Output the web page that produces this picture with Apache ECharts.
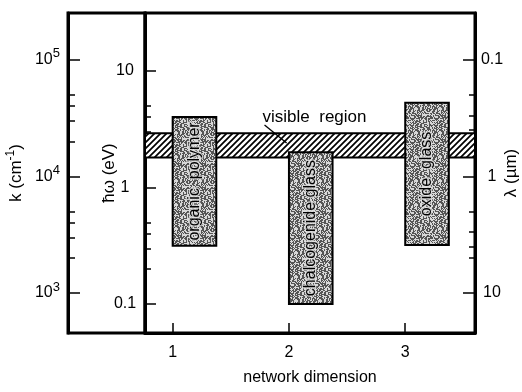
<!DOCTYPE html>
<html><head><meta charset="utf-8">
<script src="https://cdn.jsdelivr.net/npm/echarts@6/dist/echarts.min.js"></script>
<style>html,body{margin:0;padding:0;background:#fff}#c{width:522px;height:392px}</style>
</head><body><div id="c"></div>
<script>
// ---- data ----
const materials   = ['organic  polymer', 'chalcogenide glass', 'oxide  glass'];
const networkDim  = [1, 2, 3];
const gapLowEV    = [0.315, 0.1, 0.32];   // lower edge of transparency window, eV
const gapHighEV   = [4.0, 2.0, 5.3];      // upper edge, eV
const visibleBandEV = [1.8, 2.9];         // visible region, eV
const visibleLabel  = 'visible  region';

// ---- axis ticks ----
const xTicks      = [1, 2, 3];
const eVTicks     = [0.1, 1, 10];
const kTicks      = [1e3, 1e4, 1e5];
const lambdaTicks = [0.1, 1, 10];
const minorSteps  = [2, 3, 4, 5];

// axis ranges
const xRange  = [0.762, 3.6];
const eVRange = [0.0564, 31.2];
const CM_PER_EV = 8065.54;      // k (cm^-1) = E * 8065.54
const UM_EV = 1.23984;          // lambda (um) = 1.23984 / E

const kRange = [eVRange[0] * CM_PER_EV, eVRange[1] * CM_PER_EV];
const lambdaRange = [UM_EV / eVRange[1], UM_EV / eVRange[0]];
function minors(major) {
  const out = [];
  for (let i = 0; i < major.length - 1; i++) minorSteps.forEach(s => out.push(major[i] * s));
  return out;
}

// annotation placement (data units: network dimension, eV)
const annText = [2.22, 3.97];
const annFrom = [1.79, 3.42];
const annTo   = [1.98, 2.40];
const barW = 0.375;

const FONT = '"Liberation Sans", Arial, sans-serif';

function hatchPattern() {
  const s = 6, c = document.createElement('canvas');
  c.width = s; c.height = s;
  const g = c.getContext('2d');
  g.fillStyle = '#fff'; g.fillRect(0, 0, s, s);
  g.strokeStyle = '#000'; g.lineWidth = 1.7;
  g.beginPath();
  g.moveTo(-1, s + 1); g.lineTo(s + 1, -1);
  g.moveTo(-s / 2 - 1, s / 2 + 1); g.lineTo(s / 2 + 1, -s / 2 - 1);
  g.moveTo(s / 2 - 1, s * 1.5 + 1); g.lineTo(s * 1.5 + 1, s / 2 - 1);
  g.stroke();
  return c;
}
// fixed (hash-based) stipple texture imitating the printed screen tone
function ditherPattern() {
  const s = 24, c = document.createElement('canvas');
  c.width = s; c.height = s;
  const g = c.getContext('2d');
  for (let y = 0; y < s; y++) for (let x = 0; x < s; x++) {
    let h = (x * 374761393 + y * 668265263) | 0;
    h = Math.imul(h ^ (h >>> 13), 1274126177);
    h = (h ^ (h >>> 16)) >>> 0;
    g.fillStyle = (h % 100) < 52 ? '#555' : '#d8d8d8';
    g.fillRect(x, y, 1, 1);
  }
  return c;
}
const HATCH = { image: hatchPattern(), repeat: 'repeat' };
const DITHER = { image: ditherPattern(), repeat: 'repeat' };

const tickStyle = { color: '#000', width: 1.5 };
const labelBase = { color: '#000', fontSize: 16, fontFamily: FONT };
const nameStyle = { color: '#000', fontSize: 17, fontFamily: FONT };
const fmt = v => String(+(+v).toPrecision(3));

const chart = echarts.init(document.getElementById('c'), null, { renderer: 'canvas' });
chart.setOption({
  animation: false,
  backgroundColor: '#fff',
  grid: [
    { left: 145, top: 13, width: 330, height: 320, show: true, borderColor: '#000', borderWidth: 3,
      backgroundColor: 'transparent', containLabel: false, outerBoundsMode: 'none' },
    { left: 68, top: 13, width: 77, height: 320, show: true, borderColor: '#000', borderWidth: 3,
      backgroundColor: 'transparent', containLabel: false, outerBoundsMode: 'none' }
  ],
  xAxis: [
    {
      type: 'value', gridIndex: 0, min: xRange[0], max: xRange[1],
      axisLine: { show: true, lineStyle: { color: '#000', width: 3 } },
      axisTick: { inside: true, length: 10, lineStyle: tickStyle, customValues: xTicks },
      axisLabel: Object.assign({ customValues: xTicks, margin: 12, formatter: fmt }, labelBase),
      splitLine: { show: false },
      name: 'network dimension', nameLocation: 'middle', nameGap: 37, nameMoveOverlap: false,
      nameTextStyle: { color: '#000', fontSize: 16, fontFamily: FONT }
    },
    { type: 'value', gridIndex: 1, min: 0, max: 1, show: false }
  ],
  yAxis: [
    { // eV major
      type: 'log', gridIndex: 0, position: 'left', min: eVRange[0], max: eVRange[1],
      axisLine: { show: true, lineStyle: { color: '#000', width: 3 } },
      axisTick: { inside: true, length: 11, lineStyle: tickStyle, customValues: eVTicks },
      axisLabel: Object.assign({ customValues: eVTicks, margin: 20, align: 'center', formatter: fmt }, labelBase),
      splitLine: { show: false }, minorTick: { show: false },
      name: 'ħω (eV)', nameLocation: 'middle', nameRotate: 90, nameGap: 27, nameMoveOverlap: false, nameTextStyle: nameStyle
    },
    { // eV minor
      type: 'log', gridIndex: 0, position: 'left', min: eVRange[0], max: eVRange[1],
      axisLine: { show: false },
      axisTick: { inside: true, length: 6, lineStyle: tickStyle, customValues: minors(eVTicks) },
      axisLabel: { show: false }, splitLine: { show: false }
    },
    { // k major
      type: 'log', gridIndex: 1, position: 'left', min: kRange[0], max: kRange[1],
      axisLine: { show: true, lineStyle: { color: '#000', width: 3 } },
      axisTick: { inside: true, length: 12, lineStyle: tickStyle, customValues: kTicks },
      axisLabel: {
        customValues: kTicks, margin: 8, align: 'right',
        formatter: v => '{b|10}{s|' + Math.round(Math.log10(v)) + '}',
        rich: {
          b: { fontSize: 16, fontFamily: FONT, color: '#000' },
          s: { fontSize: 13, fontFamily: FONT, color: '#000', padding: [0, 0, 12, 0] }
        }
      },
      splitLine: { show: false },
      name: 'k (cm{s|-1})', nameLocation: 'middle', nameRotate: 90, nameGap: 41, nameMoveOverlap: false,
      nameTextStyle: Object.assign({ rich: { s: { fontSize: 12, fontFamily: FONT, color: '#000', padding: [0, 0, 10, 0] } } }, nameStyle)
    },
    { // k minor
      type: 'log', gridIndex: 1, position: 'left', min: kRange[0], max: kRange[1],
      axisLine: { show: false },
      axisTick: { inside: true, length: 7, lineStyle: tickStyle, customValues: minors(kTicks) },
      axisLabel: { show: false }, splitLine: { show: false }
    },
    { // lambda major
      type: 'log', gridIndex: 0, position: 'right', inverse: true, min: lambdaRange[0], max: lambdaRange[1],
      axisLine: { show: true, lineStyle: { color: '#000', width: 3 } },
      axisTick: { inside: true, length: 12, lineStyle: tickStyle, customValues: lambdaTicks },
      axisLabel: Object.assign({ customValues: lambdaTicks, margin: 17, align: 'center', formatter: fmt }, labelBase),
      splitLine: { show: false },
      name: 'λ (µm)', nameLocation: 'middle', nameRotate: 90, nameGap: 28, nameMoveOverlap: false, nameTextStyle: nameStyle
    },
    { // lambda minor
      type: 'log', gridIndex: 0, position: 'right', inverse: true, min: lambdaRange[0], max: lambdaRange[1],
      axisLine: { show: false },
      axisTick: { inside: true, length: 6, lineStyle: tickStyle, customValues: minors(lambdaTicks) },
      axisLabel: { show: false }, splitLine: { show: false }
    }
  ],
  series: [
    {
      type: 'custom', name: 'visible region', xAxisIndex: 0, yAxisIndex: 0, z: 2,
      data: [[xRange[0], visibleBandEV[0], visibleBandEV[1]]],
      renderItem(params, api) {
        const cs = params.coordSys;
        const yLo = api.coord([api.value(0), api.value(1)])[1];
        const yHi = api.coord([api.value(0), api.value(2)])[1];
        return { type: 'rect', shape: { x: cs.x, y: yHi, width: cs.width, height: yLo - yHi },
                 style: { fill: HATCH, stroke: '#000', lineWidth: 2 } };
      }
    },
    {
      type: 'custom', name: 'materials', xAxisIndex: 0, yAxisIndex: 0, z: 3,
      data: networkDim.map((d, i) => [d, gapLowEV[i], gapHighEV[i]]),
      renderItem(params, api) {
        const x0 = api.value(0), lo = api.value(1), hi = api.value(2);
        const p1 = api.coord([x0, hi]), p2 = api.coord([x0 + barW, lo]);
        return { type: 'group', children: [
          { type: 'rect', shape: { x: p1[0], y: p1[1], width: p2[0] - p1[0], height: p2[1] - p1[1] },
            style: { fill: DITHER, stroke: '#000', lineWidth: 2 } },
          { type: 'text', x: (p1[0] + p2[0]) / 2, y: (p1[1] + p2[1]) / 2, rotation: Math.PI / 2,
            style: { text: materials[params.dataIndex], fontSize: 16, fontFamily: FONT, fill: '#000',
                     align: 'center', verticalAlign: 'middle', stroke: 'rgba(225,225,225,0.8)', lineWidth: 2.5 } }
        ] };
      }
    },
    {
      type: 'custom', name: 'annotation', xAxisIndex: 0, yAxisIndex: 0, z: 4,
      data: [[annText[0], annText[1]]],
      renderItem(params, api) {
        const t = api.coord(annText), a = api.coord(annFrom), b = api.coord(annTo);
        return { type: 'group', children: [
          { type: 'text', x: t[0], y: t[1], style: { text: visibleLabel, fontSize: 17, fontFamily: FONT, fill: '#000', align: 'center', verticalAlign: 'middle' } },
          { type: 'line', shape: { x1: a[0], y1: a[1], x2: b[0], y2: b[1] }, style: { stroke: '#000', lineWidth: 1.3 } }
        ] };
      }
    }
  ]
});
</script></body></html>
